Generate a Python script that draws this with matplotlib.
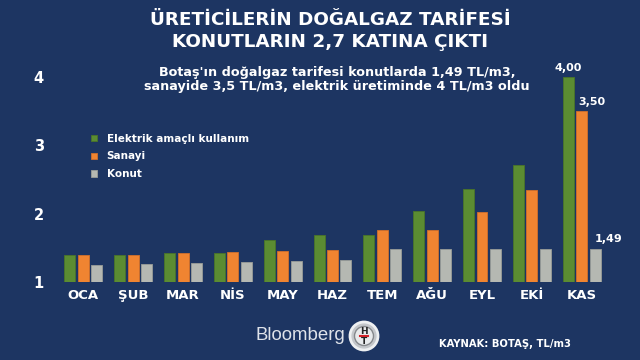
import numpy as np
import matplotlib.pyplot as plt
from matplotlib.patches import Circle
from matplotlib.lines import Line2D

months = ['OCA', 'ŞUB', 'MAR', 'NİS', 'MAY', 'HAZ', 'TEM', 'AĞU', 'EYL', 'EKİ', 'KAS']
elektrik = [1.39, 1.40, 1.42, 1.43, 1.61, 1.69, 1.69, 2.04, 2.36, 2.71, 4.00]
sanayi = [1.39, 1.40, 1.42, 1.44, 1.46, 1.47, 1.76, 1.76, 2.03, 2.35, 3.50]
konut = [1.25, 1.27, 1.28, 1.29, 1.31, 1.32, 1.49, 1.49, 1.49, 1.49, 1.49]
series_names = ['Elektrik amaçlı kullanım', 'Sanayi', 'Konut']
base = 1

bg = '#1d3562'
colors = ['#5b8c32', '#f08431', '#b5b8b2']
edges = ['#4a7528', '#d2702a', '#9a9d98']

fig = plt.figure(figsize=(6.4, 3.6), dpi=100)
fig.patch.set_facecolor(bg)
ax = fig.add_axes([55 / 640, 0.2167, 565 / 640, 0.626])
ax.set_facecolor(bg)

x = np.arange(len(months))
w = 0.22
off = 0.27
for i, vals in enumerate([elektrik, sanayi, konut]):
    h = np.array(vals) - base
    ax.bar(x + (i - 1) * off, h, w, bottom=base, color=colors[i],
           edgecolor=edges[i], linewidth=0.6, label=series_names[i])

# labels on the last month
ax.text(x[-1] - off, elektrik[-1] + 0.06, '4,00', color='white', fontsize=8,
        fontweight='bold', ha='center', va='bottom')
ax.text(x[-1] + 0.2, sanayi[-1] + 0.06, '3,50', color='white', fontsize=8,
        fontweight='bold', ha='center', va='bottom')
ax.text(x[-1] + off + 0.28, konut[-1] + 0.06, '1,49', color='white', fontsize=8,
        fontweight='bold', ha='center', va='bottom')

ax.set_xlim(-0.57, 10.77)
ax.set_ylim(1, 4.3)
ax.set_yticks([1, 2, 3, 4])
ax.set_yticklabels(['1', '2', '3', '4'])
ax.set_xticks(x)
ax.set_xticklabels(months)
ax.tick_params(axis='both', length=0, colors='white', labelsize=9.5)
ax.tick_params(axis='y', pad=8, labelsize=10.5)
ax.tick_params(axis='x', pad=5)
for lbl in ax.get_xticklabels() + ax.get_yticklabels():
    lbl.set_fontweight('bold')
for s in ax.spines.values():
    s.set_visible(False)

leg = ax.legend(loc='upper left', bbox_to_anchor=(0.048, 0.70), frameon=False,
                handlelength=0.55, handleheight=0.55, handletextpad=0.9,
                labelspacing=0.75, prop={'weight': 'bold', 'size': 7.5})
for t in leg.get_texts():
    t.set_color('white')

fig.text(0.516, 0.944, 'ÜRETİCİLERİN DOĞALGAZ TARİFESİ', color='white', fontsize=13.2,
         fontweight='bold', ha='center', va='center')
fig.text(0.516, 0.884, 'KONUTLARIN 2,7 KATINA ÇIKTI', color='white', fontsize=13.2,
         fontweight='bold', ha='center', va='center')
fig.text(0.527, 0.778, "Botaş'ın doğalgaz tarifesi konutlarda 1,49 TL/m3,\n"
         "sanayide 3,5 TL/m3, elektrik üretiminde 4 TL/m3 oldu",
         color='white', fontsize=9.2, fontweight='bold', ha='center', va='center',
         linespacing=1.1)

fig.text(345 / 640, 1 - 336 / 360, 'Bloomberg', color='#dfe3ea', fontsize=13.4,
         family='Liberation Sans', ha='right', va='center')

# HT logo
cx, cy = 364, 360 - 336
fig.patches.append(Circle((cx, cy), 14, transform=None, facecolor='#c4c7cb',
                          edgecolor='#eef0f2', linewidth=2))
fig.patches.append(Circle((cx, cy), 9.5, transform=None, facecolor='#e8eaec',
                          edgecolor='#85888c', linewidth=1))
fig.text(cx / 640, (cy + 5) / 360, 'H', color='#222222', fontsize=6.5,
         fontweight='bold', ha='center', va='center')
fig.text(cx / 640, (cy - 5) / 360, 'T', color='#222222', fontsize=6.5,
         fontweight='bold', ha='center', va='center')
fig.lines.append(Line2D([(cx - 4) / 640, (cx + 4) / 640], [cy / 360, cy / 360],
                        transform=fig.transFigure, color='#d22027', linewidth=1.5))

fig.text(0.789, 1 - 344 / 360, 'KAYNAK: BOTAŞ, TL/m3', color='white', fontsize=7.2,
         fontweight='bold', ha='center', va='center')

fig.savefig('out.png', dpi=100, facecolor=bg)
